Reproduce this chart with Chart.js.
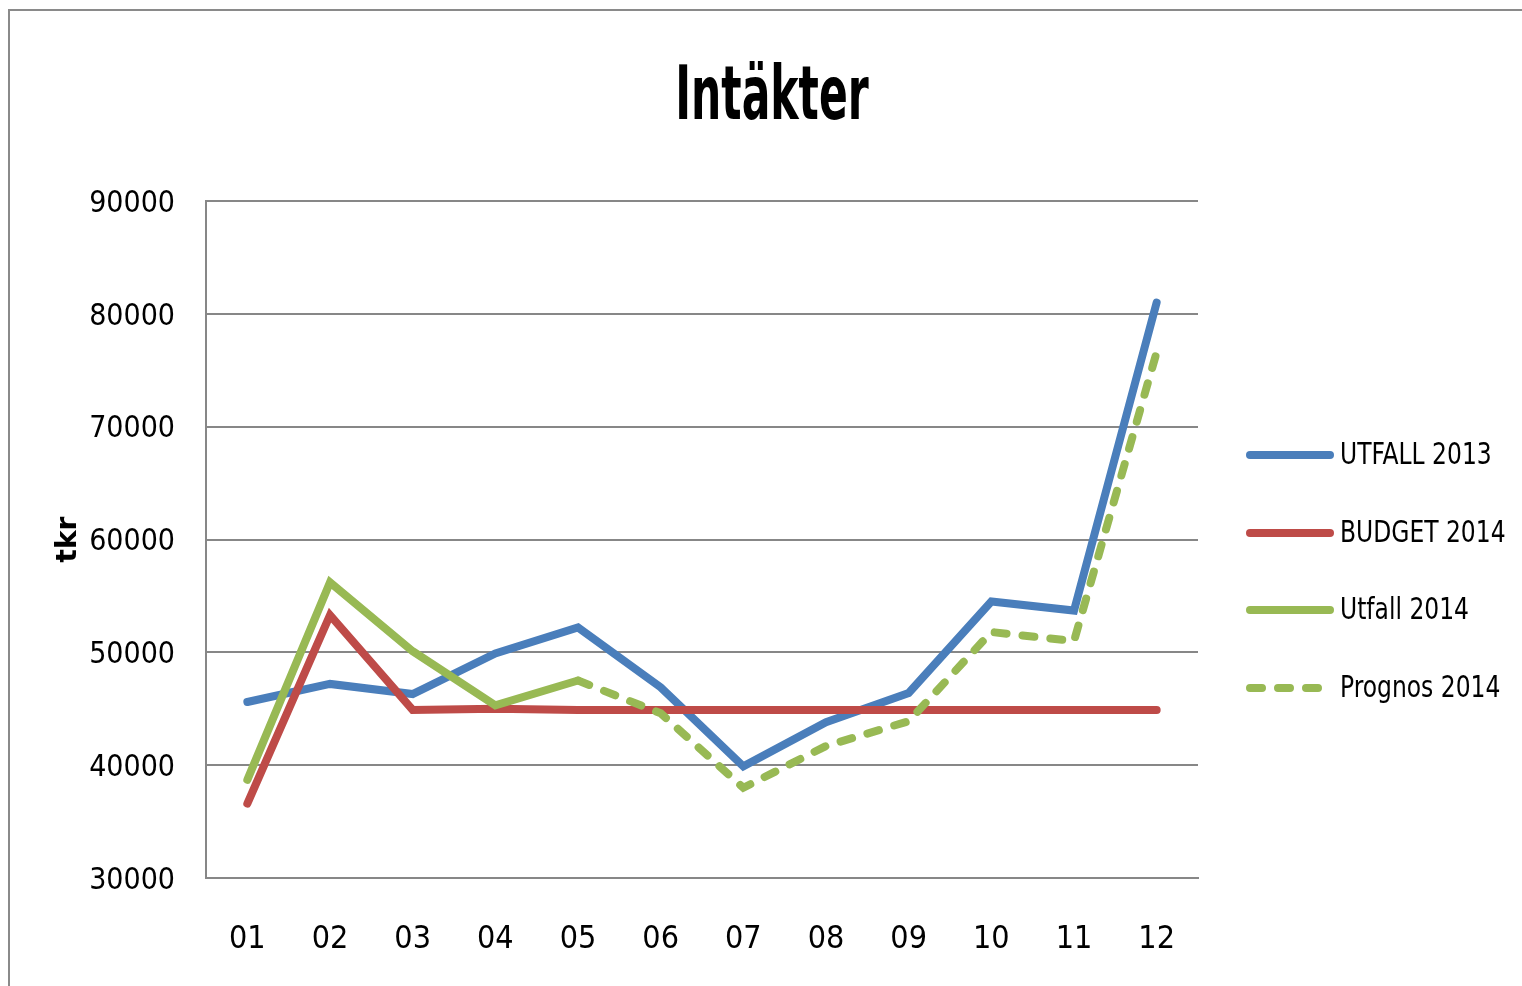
<!DOCTYPE html>
<html>
<head>
<meta charset="utf-8">
<script src="https://cdn.jsdelivr.net/npm/chart.js@4.4.1/dist/chart.umd.min.js"></script>
<style>
    body { margin: 0; background: #ffffff; }
    #wrap {
        position: absolute; left: 8px; top: 9px;
        width: 1514px; height: 977px;
        border-top: 2px solid #8a8a8a; border-left: 2px solid #8a8a8a;
        box-sizing: border-box;
    }
    #ChartCanvas { display: block; }
</style>
</head>
<body>
<div id="wrap"><canvas id="ChartCanvas" width="1512" height="975"></canvas></div>
<script>
var chartContext = document.getElementById("ChartCanvas").getContext("2d");

var fontNarrow = "'Liberation Sans Narrow', 'DejaVu Sans Condensed', sans-serif";

// months on the x axis
var months = ["01", "02", "03", "04", "05", "06", "07", "08", "09", "10", "11", "12"];
// tkr per month
var utfall2013 = [45600, 47200, 46300, 49900, 52200, 46900, 39900, 43800, 46400, 54500, 53700, 81000];
var budget2014 = [36600, 53300, 44900, 45000, 44900, 44900, 44900, 44900, 44900, 44900, 44900, 44900];
var utfall2014 = [38700, 56200, 50100, 45300, 47500, null, null, null, null, null, null, null];
var prognos2014 = [null, null, null, null, 47500, 44600, 38000, 41700, 43900, 51800, 51000, 76600];
// y axis ticks
var yMin = 30000;
var yMax = 90000;
var yStep = 10000;

var chartTitle = "Intäkter";
var gridGray = '#878787';

// draws text squeezed sideways, the excel font is narrow
function narrowText(ctx, text, x, y, squeeze) {
    ctx.save();
    ctx.translate(x, y);
    ctx.scale(squeeze, 1);
    ctx.fillText(text, 0, 0);
    ctx.restore();
}

// title over the whole canvas width + legend at the right like the excel one
var excelDecor = {
    id: 'excelDecor',
    afterDraw: function (chart) {
        var ctx = chart.ctx;
        var area = chart.chartArea;
        ctx.save();
        ctx.fillStyle = '#000000';
        ctx.textBaseline = 'middle';
        ctx.textAlign = 'center';
        ctx.font = "bold 75px " + fontNarrow;
        narrowText(ctx, chartTitle, chart.width / 2 + 6, 89, 0.63);

        var x0 = area.right + 52;
        var rows = [444, 522, 599, 677];
        chart.data.datasets.forEach(function (ds, i) {
            var y = rows[i];
            ctx.strokeStyle = ds.borderColor;
            ctx.lineWidth = 8;
            ctx.lineCap = 'round';
            ctx.setLineDash(ds.borderDash || []);
            ctx.beginPath();
            ctx.moveTo(x0, y);
            ctx.lineTo(x0 + 80, y);
            ctx.stroke();
            ctx.setLineDash([]);
            ctx.font = "31px " + fontNarrow;
            ctx.textAlign = 'left';
            narrowText(ctx, ds.label, x0 + 90, y + 1, 0.84);
        });
        ctx.restore();
    }
};

function getData() {
    return {
        labels: months,
        datasets: [
            {
                data: utfall2013,
                label: "UTFALL 2013",
                borderColor: 'rgb(74, 126, 187)',
                backgroundColor: 'rgb(74, 126, 187)',
                order: 3
            },
            {
                data: budget2014,
                label: "BUDGET 2014",
                borderColor: 'rgb(190, 75, 72)',
                backgroundColor: 'rgb(190, 75, 72)',
                order: 2
            },
            {
                data: utfall2014,
                label: "Utfall 2014",
                borderColor: 'rgb(152, 185, 84)',
                backgroundColor: 'rgb(152, 185, 84)',
                order: 1
            },
            {
                data: prognos2014,
                label: "Prognos 2014",
                borderColor: 'rgb(152, 185, 84)',
                backgroundColor: 'rgb(152, 185, 84)',
                borderDash: [12, 16],
                order: 0
            }
        ]
    };
}

function createChart() {
    const config = {
        type: "line",
        data: getData(),
        plugins: [excelDecor],
        options: {
            responsive: false,
            animation: false,
            layout: {
                padding: { left: 0, right: 324, top: 190, bottom: 0 }
            },
            elements: {
                line: { borderWidth: 8, borderCapStyle: 'round', borderJoinStyle: 'miter', tension: 0 },
                point: { radius: 0, hoverRadius: 0 }
            },
            plugins: {
                legend: { display: false },
                tooltip: { enabled: false },
                title: { display: false }
            },
            scales: {
                x: {
                    offset: true,
                    afterFit: function (scale) {
                        scale.height = 108; // plot ends where the excel one does
                    },
                    grid: { display: false, drawTicks: false },
                    border: { display: true, color: gridGray, width: 2 },
                    ticks: {
                        color: '#000000',
                        padding: 42,
                        maxRotation: 0,
                        font: { family: fontNarrow, size: 32 }
                    }
                },
                y: {
                    min: yMin,
                    max: yMax,
                    afterFit: function (scale) {
                        scale.width = 196; // plot starts where the excel one does
                    },
                    grid: { color: gridGray, lineWidth: 2, drawTicks: false },
                    border: { display: true, color: gridGray, width: 2 },
                    ticks: {
                        stepSize: yStep,
                        color: '#000000',
                        padding: 31,
                        labelOffset: 3,
                        font: { family: fontNarrow, size: 30 },
                        callback: function (value) {
                            return String(value); // no thousands separator
                        }
                    },
                    title: {
                        display: true,
                        text: 'tkr',
                        color: '#000000',
                        font: { family: "'DejaVu Sans', sans-serif", size: 28, weight: 'bold', lineHeight: 1.2 },
                        padding: { top: 42, bottom: 0 }
                    }
                }
            }
        }
    };

    new Chart(chartContext, config);
}

createChart();
</script>
</body>
</html>
